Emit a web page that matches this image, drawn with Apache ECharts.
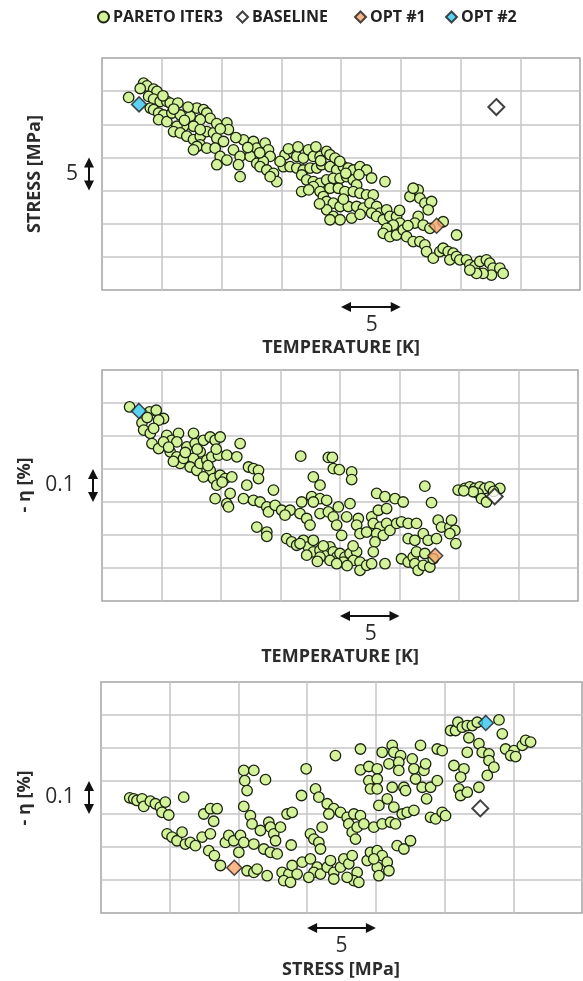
<!DOCTYPE html>
<html>
<head>
<meta charset="utf-8">
<title>Pareto iter3</title>
<script src="https://cdn.jsdelivr.net/npm/echarts@6/dist/echarts.min.js"></script>
<style>
  html, body { margin: 0; padding: 0; background: #fff; }
  #main { width: 583px; height: 981px; }
</style>
</head>
<body>
<div id="main"></div>
<script>
// relative values (axis labels are hidden, only the scale bars give units)
// [temperature K, stress MPa, -eta %]
var baseline = [33.0, 27.6, 0.317];
var opt1 = [28.0, 9.7, 0.137];
var opt2 = [3.1, 28.0, 0.576];

// panel 1 : temperature vs stress
var paretoTempStress = [
  [2.23,29.05],[3.48,31.2],[3.76,30.8],[4.32,30.3],[4.6,29.95],[3.9,29.2],[4.32,28.8],[4.87,28.45],
  [5.43,28.45],[5.71,28.2],[6.35,28.2],[4.04,27.45],[4.32,27.2],[4.74,26.7],[5.15,26.4],[4.74,25.7],
  [5.43,25.4],[5.85,26.7],[6.55,26.4],[7.38,26.2],[7.94,27.45],[8.5,27.2],[8.77,26.7],[9.05,25.9],
  [8.22,25.7],[7.66,24.7],[6.82,24.7],[6.27,24.7],[5.99,23.9],[6.55,23.7],[7.1,23.2],[7.66,22.7],
  [8.22,23.2],[8.77,23.9],[9.33,23.7],[9.61,22.9],[10.17,22.4],[10.45,25.2],[10.58,24.2],[8.22,24.2],
  [8.22,21.9],[7.94,21.65],[7.66,21.15],[8.77,21.4],[9.47,21.4],[9.89,20.15],[9.61,18.9],[10.45,19.6],
  [11.0,21.15],[11.56,20.15],[11.42,18.9],[11.56,17.1],[11.84,22.65],[12.67,22.4],[12.95,21.4],[12.4,20.15],
  [12.95,19.1],[13.65,22.15],[13.93,21.15],[14.07,20.15],[13.5,19.4],[13.23,18.6],[13.79,18.1],[14.35,17.6],
  [14.62,16.35],[14.07,17.1],[15.32,20.4],[16.02,20.65],[16.3,20.15],[16.85,19.9],[17.27,21.15],[17.69,20.15],
  [18.25,20.15],[18.8,20.9],[19.08,20.4],[19.5,19.9],[15.18,18.6],[15.74,18.6],[16.3,18.4],[16.85,18.1],
  [17.41,18.4],[17.97,18.4],[18.38,18.9],[19.08,18.6],[19.64,18.1],[20.2,18.6],[20.61,18.4],[21.03,18.1],
  [21.59,18.6],[22.14,18.1],[22.56,16.9],[23.68,16.35],[16.71,17.35],[17.13,16.6],[17.69,16.35],[18.25,16.1],
  [18.8,16.6],[19.36,16.85],[19.92,16.85],[20.47,17.1],[21.03,16.6],[21.31,15.85],[16.71,14.85],[17.69,15.6],
  [18.25,14.85],[19.08,15.35],[19.78,15.35],[20.33,14.85],[21.03,14.85],[21.59,14.6],[22.14,14.35],[22.7,14.35],
  [18.52,14.1],[18.8,13.35],[19.36,13.1],[19.92,12.6],[20.61,12.6],[21.31,12.6],[21.87,12.35],[22.42,13.1],
  [22.98,12.6],[23.26,11.6],[23.82,12.1],[18.8,12.1],[19.36,11.1],[19.92,10.6],[20.89,10.85],[19.08,10.6],
  [22.56,11.6],[22.98,11.1],[23.54,10.6],[24.09,11.1],[24.65,11.1],[24.93,10.1],[24.37,9.8],[23.82,9.3],
  [23.54,8.55],[24.09,8.05],[24.65,8.3],[25.21,9.05],[25.49,8.05],[26.04,7.3],[26.6,7.3],[27.02,6.8],
  [27.16,5.8],[25.77,14.1],[26.46,15.1],[26.04,15.35],[26.6,13.85],[27.02,13.1],[27.58,13.35],[27.3,12.1],
  [26.46,11.1],[26.18,10.1],[26.88,9.8],[27.44,9.3],[28.55,10.3],[29.67,8.3],[27.72,4.8],[28.27,5.8],
  [28.55,6.3],[28.97,5.8],[29.39,5.55],[29.11,4.55],[29.67,5.05],[29.94,4.55],[30.5,4.55],[30.78,3.8],
  [31.2,3.55],[31.62,4.3],[32.17,4.55],[32.45,4.05],[32.73,3.3],[33.29,3.3],[33.57,2.5],[32.59,2.25],
  [31.89,2.5],[31.34,2.5],[30.78,3.0],
  [3.2,30.4],[5.1,29.3],[6.0,27.3],[6.9,25.6],[7.2,27.6],[9.6,25.1],[9.9,24.3],[11.2,23.0],
  [12.2,21.5],[13.2,20.7],[14.9,19.4],[15.6,21.3],[16.4,21.6],[17.9,21.6],[18.3,19.5],[19.9,19.4],
  [20.4,17.6],[21.5,17.4],[17.3,15.1],[18.2,13.0],[20.2,13.7],[21.6,11.4],[24.9,12.0],[25.6,9.7]
];

// panel 2 : temperature vs -eta
var paretoTempEta = [
  [2.32,0.588],[4.0,0.573],[4.56,0.578],[5.17,0.553],[4.76,0.548],[3.36,0.54],[3.5,0.518],[4.06,0.508],
  [4.34,0.523],[4.2,0.477],[4.76,0.462],[5.45,0.502],[5.87,0.487],[6.43,0.508],[6.29,0.482],[5.17,0.482],
  [5.73,0.452],[6.29,0.437],[6.57,0.417],[6.85,0.432],[7.13,0.467],[7.69,0.508],[7.83,0.477],[8.53,0.487],
  [9.09,0.497],[9.51,0.487],[9.93,0.497],[8.25,0.452],[7.69,0.432],[7.41,0.406],[7.97,0.396],[8.25,0.417],
  [8.81,0.427],[9.23,0.437],[9.79,0.442],[10.49,0.442],[11.33,0.437],[11.61,0.477],[9.09,0.396],[8.53,0.376],
  [9.37,0.371],[9.65,0.351],[9.93,0.381],[10.35,0.371],[10.91,0.376],[9.51,0.31],[10.77,0.326],[10.49,0.295],
  [10.63,0.285],[11.89,0.31],[12.17,0.351],[12.31,0.406],[12.73,0.401],[13.15,0.396],[13.15,0.371],[12.73,0.305],
  [13.29,0.3],[13.85,0.285],[13.99,0.27],[14.41,0.336],[14.55,0.29],[15.1,0.275],[15.8,0.275],[15.38,0.26],
  [16.64,0.265],[17.2,0.25],[17.48,0.23],[16.78,0.3],[17.62,0.316],[18.32,0.31],[18.88,0.305],[17.76,0.3],
  [17.76,0.376],[18.32,0.351],[16.7,0.439],[19.02,0.435],[19.36,0.435],[19.44,0.401],[19.94,0.398],[20.98,0.391],
  [20.98,0.368],[19.86,0.285],[20.56,0.255],[20.84,0.295],[18.32,0.265],[19.02,0.27],[19.44,0.255],[19.72,0.23],
  [20.14,0.199],[21.54,0.25],[21.4,0.23],[21.68,0.204],[22.24,0.209],[22.66,0.255],[23.22,0.275],[23.92,0.28],
  [23.08,0.326],[23.78,0.316],[24.62,0.31],[25.31,0.3],[22.8,0.235],[23.36,0.224],[23.92,0.235],[23.08,0.204],
  [23.64,0.199],[22.94,0.179],[24.2,0.214],[24.76,0.235],[25.17,0.24],[25.73,0.235],[26.43,0.235],[25.73,0.189],
  [26.29,0.184],[27.0,0.204],[27.41,0.184],[28.11,0.189],[28.25,0.245],[28.53,0.224],[29.23,0.224],[29.37,0.245],
  [29.65,0.214],[29.23,0.204],[29.73,0.174],[27.13,0.348],[27.69,0.298],[13.01,0.224],[13.85,0.209],[13.85,0.196],
  [15.52,0.189],[15.94,0.179],[16.36,0.169],[16.92,0.184],[17.34,0.164],[17.76,0.184],[17.76,0.149],[18.32,0.154],
  [18.88,0.139],[19.16,0.164],[19.44,0.149],[19.72,0.133],[19.16,0.123],[20.0,0.144],[20.42,0.133],[20.84,0.144],
  [21.4,0.149],[21.12,0.123],[21.68,0.118],[21.68,0.093],[22.24,0.108],[22.66,0.113],[22.8,0.149],[23.78,0.113],
  [20.28,0.118],[19.72,0.113],[16.64,0.174],[17.2,0.139],[18.32,0.133],[25.17,0.128],[25.73,0.118],[26.15,0.133],
  [26.43,0.149],[26.29,0.113],[26.57,0.093],[27.0,0.108],[27.55,0.103],[27.83,0.128],[27.13,0.144],[29.93,0.336],
  [30.49,0.341],[30.91,0.346],[31.33,0.341],[31.75,0.346],[32.17,0.341],[32.59,0.346],[33.43,0.341],[31.61,0.326],
  [31.89,0.31],[32.31,0.3],[31.19,0.331],
  [3.8,0.556],[5.6,0.466],[6.0,0.423],[7.0,0.45],[8.0,0.46],[8.9,0.41],[9.6,0.46],[10.1,0.36],
  [18.6,0.167],[18.1,0.12],[20.6,0.107],[21.1,0.167],[32.9,0.332],[30.4,0.334]
];

// panel 3 : stress vs -eta
var paretoStressEta = [
  [2.09,0.349],[2.38,0.346],[2.62,0.341],[2.99,0.346],[3.11,0.323],[3.59,0.339],[3.96,0.331],[4.32,0.321],
  [4.68,0.336],[4.44,0.305],[4.93,0.297],[6.02,0.351],[4.81,0.24],[5.17,0.23],[5.53,0.219],[5.9,0.245],
  [6.14,0.209],[6.5,0.214],[6.87,0.204],[7.48,0.3],[7.96,0.316],[8.45,0.316],[8.2,0.278],[7.36,0.23],
  [7.96,0.24],[7.84,0.189],[8.25,0.174],[9.05,0.214],[9.3,0.235],[8.69,0.144],[9.66,0.219],[10.03,0.184],
  [10.15,0.235],[10.39,0.432],[11.12,0.432],[10.46,0.401],[10.63,0.371],[11.97,0.404],[10.39,0.323],[10.87,0.295],
  [10.99,0.27],[10.39,0.214],[11.12,0.209],[10.63,0.128],[11.12,0.123],[11.36,0.133],[12.09,0.113],[11.85,0.194],
  [12.33,0.184],[12.82,0.179],[11.6,0.25],[12.21,0.275],[12.33,0.26],[12.57,0.24],[13.06,0.26],[12.7,0.219],
  [13.54,0.3],[13.91,0.305],[13.84,0.206],[13.18,0.123],[13.67,0.118],[13.91,0.144],[14.27,0.118],[14.64,0.154],
  [13.3,0.098],[13.79,0.093],[14.93,0.437],[14.59,0.356],[15.61,0.376],[15.85,0.351],[16.46,0.331],[16.94,0.316],
  [17.43,0.305],[17.91,0.29],[18.4,0.3],[18.88,0.295],[18.03,0.27],[18.28,0.245],[18.64,0.26],[18.52,0.224],
  [19.13,0.27],[19.85,0.26],[20.46,0.27],[21.07,0.275],[21.43,0.27],[21.92,0.3],[22.28,0.305],[22.77,0.311],
  [16.09,0.26],[15.24,0.24],[15.49,0.224],[15.85,0.214],[15.97,0.194],[16.58,0.3],[15.24,0.164],[15.73,0.139],
  [15.49,0.123],[15.12,0.108],[15.97,0.118],[16.46,0.139],[16.7,0.159],[16.94,0.123],[16.94,0.103],[17.43,0.139],
  [17.67,0.164],[18.03,0.149],[18.28,0.174],[18.64,0.123],[18.4,0.098],[18.76,0.093],[17.91,0.108],[19.37,0.159],
  [19.61,0.184],[20.1,0.189],[20.46,0.174],[20.83,0.154],[20.95,0.128],[20.1,0.139],[20.22,0.113],[19.85,0.164],
  [21.55,0.204],[22.04,0.194],[22.52,0.219],[17.06,0.477],[18.88,0.497],[18.88,0.434],[19.49,0.444],[20.1,0.437],
  [19.49,0.401],[20.1,0.406],[19.61,0.376],[20.1,0.376],[20.22,0.326],[20.46,0.487],[21.19,0.508],[21.31,0.487],
  [21.8,0.477],[20.95,0.452],[21.67,0.457],[21.67,0.432],[20.83,0.346],[21.19,0.381],[21.31,0.321],[22.04,0.381],
  [22.16,0.371],[22.65,0.467],[22.77,0.437],[22.89,0.406],[23.25,0.508],[23.37,0.381],[23.5,0.432],[23.62,0.452],
  [23.69,0.346],[23.98,0.381],[24.47,0.401],[24.47,0.497],[24.83,0.492],[23.98,0.29],[24.35,0.285],[24.83,0.305],
  [25.07,0.295],[25.44,0.553],[25.8,0.553],[25.97,0.578],[26.29,0.563],[26.65,0.568],[27.02,0.568],[27.38,0.578],
  [26.77,0.531],[25.68,0.447],[26.41,0.437],[26.65,0.487],[26.17,0.412],[26.04,0.376],[26.17,0.356],[26.65,0.366],
  [27.5,0.381],[27.5,0.513],[27.74,0.487],[28.23,0.482],[28.23,0.462],[28.59,0.442],[28.11,0.417],[28.96,0.585],
  [29.2,0.543],[29.44,0.497],[30.05,0.492],[29.81,0.477],[30.17,0.474],[30.66,0.508],[30.9,0.523],[31.26,0.518]
];

var tempRange = [0, 40];
var stressRange = [0, 35];
var etaRange = [0, 0.7];

var chart = echarts.init(document.getElementById('main'));

var FONT = '"Open Sans", "Noto Sans", sans-serif';
var gridCol = '#c6c6c6';

function axis(gi, range, step) {
  return {
    type: 'value',
    gridIndex: gi,
    min: range[0],
    max: range[1],
    interval: step,
    axisLabel: { show: false },
    axisTick: { show: false },
    axisLine: { show: false },
    splitLine: { showMinLine: false, showMaxLine: false, lineStyle: { color: gridCol, width: 1.5 } }
  };
}

function pick(p, i, j) { return [p[i], p[j]]; }

// builds the 4 series for one panel
function panel(gi, pareto, i, j) {
  return [
    {
      name: 'PARETO ITER3', type: 'scatter', xAxisIndex: gi, yAxisIndex: gi,
      symbol: 'circle', symbolSize: 10.5,
      itemStyle: { color: '#d3f29a', borderColor: '#1b2410', borderWidth: 1.3, opacity: 1 },
      data: pareto
    },
    {
      name: 'BASELINE', type: 'scatter', xAxisIndex: gi, yAxisIndex: gi,
      symbol: 'diamond', symbolSize: 16, z: 3,
      itemStyle: { color: '#ffffff', borderColor: '#111', borderWidth: 2 },
      data: [pick(baseline, i, j)]
    },
    {
      name: 'OPT #1', type: 'scatter', xAxisIndex: gi, yAxisIndex: gi,
      symbol: 'diamond', symbolSize: 15, z: 4,
      itemStyle: { color: '#f8a46b', borderColor: '#1b1b1b', borderWidth: 1.5 },
      data: [pick(opt1, i, j)]
    },
    {
      name: 'OPT #2', type: 'scatter', xAxisIndex: gi, yAxisIndex: gi,
      symbol: 'diamond', symbolSize: 15, z: 4,
      itemStyle: { color: '#33c5ec', borderColor: '#1b1b1b', borderWidth: 1.5 },
      data: [pick(opt2, i, j)]
    }
  ];
}

var gridStyle = { show: true, borderColor: '#a4a4a4', borderWidth: 1.5 };

// one legend block per entry so the spacing follows the original
var legendItems = [
  { name: 'PARETO ITER3', icon: 'circle', left: 92 },
  { name: 'BASELINE', icon: 'diamond', left: 231 },
  { name: 'OPT #1', icon: 'diamond', left: 349 },
  { name: 'OPT #2', icon: 'diamond', left: 440 }
];

chart.setOption({
  backgroundColor: '#fff',
  animation: false,
  legend: legendItems.map(function (it) {
    return {
      left: it.left, top: 4,
      itemWidth: 11, itemHeight: 11, itemGap: 0,
      selectedMode: false,
      textStyle: { fontFamily: FONT, fontSize: 16, fontWeight: 'bold', color: '#222', padding: [0, 0, 0, -1] },
      data: [{ name: it.name, icon: it.icon }]
    };
  }),
  grid: [
    Object.assign({ left: 102, top: 58, width: 478, height: 232 }, gridStyle),
    Object.assign({ left: 102, top: 370, width: 476, height: 231 }, gridStyle),
    Object.assign({ left: 101, top: 682, width: 481, height: 231 }, gridStyle)
  ],
  xAxis: [axis(0, tempRange, 5), axis(1, tempRange, 5), axis(2, stressRange, 5)],
  yAxis: [axis(0, stressRange, 5), axis(1, etaRange, 0.1), axis(2, etaRange, 0.1)],
  series: [].concat(
    panel(0, paretoTempStress, 0, 1),
    panel(1, paretoTempEta, 0, 2),
    panel(2, paretoStressEta, 1, 2)
  )
});

// scale bars and titles, placed from the axes
var ink = '#111';
var gfx = [];

function hArrow(gi, v1, v2, y) {
  var a = chart.convertToPixel({ xAxisIndex: gi }, v1);
  var b = chart.convertToPixel({ xAxisIndex: gi }, v2);
  gfx.push({ type: 'line', shape: { x1: a + 6, y1: y, x2: b - 6, y2: y }, style: { stroke: ink, lineWidth: 2 } });
  gfx.push({ type: 'polygon', shape: { points: [[a, y], [a + 10, y - 5], [a + 10, y + 5]] }, style: { fill: ink } });
  gfx.push({ type: 'polygon', shape: { points: [[b, y], [b - 10, y - 5], [b - 10, y + 5]] }, style: { fill: ink } });
  return (a + b) / 2;
}

function vArrow(gi, v1, v2, x) {
  var a = chart.convertToPixel({ yAxisIndex: gi }, v1);
  var b = chart.convertToPixel({ yAxisIndex: gi }, v2);
  gfx.push({ type: 'line', shape: { x1: x, y1: a - 6, x2: x, y2: b + 6 }, style: { stroke: ink, lineWidth: 2 } });
  gfx.push({ type: 'polygon', shape: { points: [[x, a], [x - 5, a - 10], [x + 5, a - 10]] }, style: { fill: ink } });
  gfx.push({ type: 'polygon', shape: { points: [[x, b], [x - 5, b + 10], [x + 5, b + 10]] }, style: { fill: ink } });
  return (a + b) / 2;
}

function label(text, x, y, size, weight, rot) {
  gfx.push({
    type: 'text', x: x, y: y, rotation: rot || 0,
    style: { text: text, x: 0, y: 0, align: 'center', verticalAlign: 'middle',
      font: (weight || 'normal') + ' ' + size + 'px ' + FONT, fill: '#2b2b2b' }
  });
}

var c;
// panel 1
c = hArrow(0, 20, 25, 307); label('5', c + 1, 325, 21);
c = vArrow(0, 15, 20, 89); label('5', 72, c, 21);
label('TEMPERATURE [K]', 341, 348, 18, 'bold');
label('STRESS [MPa]', 35, 174, 18, 'bold', Math.PI / 2);
// panel 2
c = hArrow(1, 20, 25, 616); label('5', c + 1, 634, 21);
c = vArrow(1, 0.3, 0.4, 93); label('0.1', 60, c, 21);
label('TEMPERATURE [K]', 340, 657, 18, 'bold');
label('- \u03b7 [%]', 25, 485, 18, 'bold', Math.PI / 2);
// panel 3
c = hArrow(2, 15, 20, 928); label('5', c, 946, 21);
c = vArrow(2, 0.3, 0.4, 89); label('0.1', 60, c, 21);
label('STRESS [MPa]', 341, 970, 18, 'bold');
label('- \u03b7 [%]', 25, 798, 18, 'bold', Math.PI / 2);

chart.setOption({ graphic: gfx });
</script>
</body>
</html>
